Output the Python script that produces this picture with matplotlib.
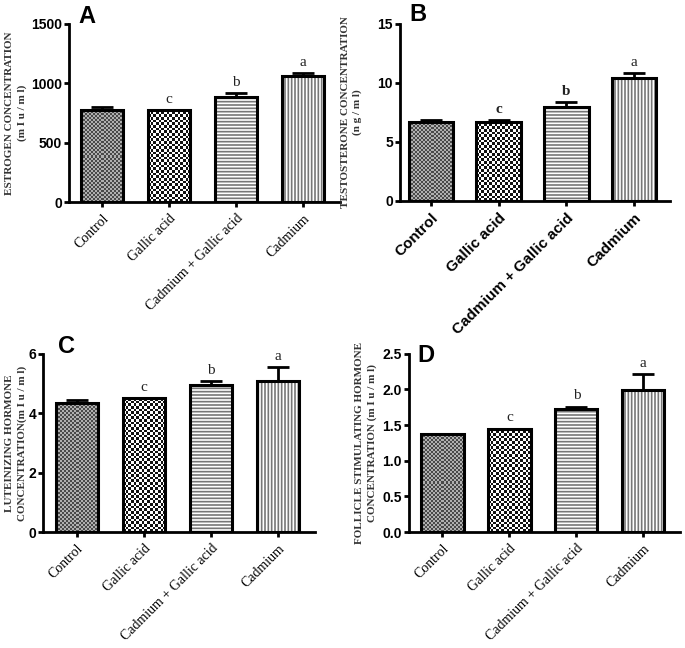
import matplotlib
matplotlib.use('Agg')
import matplotlib.pyplot as plt
from matplotlib.colors import ListedColormap
import numpy as np

# data
groups = ['Control', 'Gallic acid', 'Cadmium + Gallic acid', 'Cadmium']
sig_letters = ['', 'c', 'b', 'a']

estrogen = [775, 775, 885, 1060]
estrogen_err = [30, 0, 35, 25]

testosterone = [6.7, 6.7, 8.0, 10.4]
testosterone_err = [0.15, 0.15, 0.4, 0.45]

lh = [4.35, 4.5, 4.95, 5.1]
lh_err = [0.1, 0.0, 0.12, 0.45]

fsh = [1.38, 1.45, 1.72, 1.99]
fsh_err = [0.0, 0.0, 0.04, 0.23]

# fill styles: checker (period px, colours) or hatch
checkers = [(2.0, '#4a4a4a', '#b0b0b0'), (2.6, '#111111', '#ffffff'), None, None]
hatches = [None, None, '-----', '|||||']

plt.rcParams['hatch.linewidth'] = 1.2
SERIF = 'Liberation Serif'
SANS = 'Liberation Sans'

fig = plt.figure(figsize=(6.85, 6.48), dpi=100)


def checker_fill(ax, bar, period, c1, c2):
    x0, y0, x1, y1 = bar.get_bbox().extents
    p0 = ax.transData.transform((x0, y0))
    p1 = ax.transData.transform((x1, y1))
    nx = max(1, int(round((p1[0] - p0[0]) / period)))
    ny = max(1, int(round((p1[1] - p0[1]) / period)))
    arr = np.add.outer(np.arange(ny), np.arange(nx)) % 2
    im = ax.imshow(arr, extent=(x0, x1, y0, y1), cmap=ListedColormap([c1, c2]),
                   interpolation='nearest', aspect='auto', zorder=2)
    im.set_clip_path(bar)


def panel(rect, vals, errs, ylim, yticks, ylabel, letter, letter_xy,
          ylabel_x, bold_sans_x=False, fmt='%d', xlim=(-0.5, 3.55), width=0.63):
    ax = fig.add_axes(rect)
    ax.set_xlim(*xlim)
    ax.set_ylim(*ylim)
    x = np.arange(len(vals))
    for i in range(len(vals)):
        face = ax.bar(x[i], vals[i], width, color='white', linewidth=0,
                      hatch=hatches[i], edgecolor='#777777', zorder=1)[0]
        if checkers[i] is not None:
            checker_fill(ax, face, *checkers[i])
        ax.bar(x[i], vals[i], width, fill=False, edgecolor='black',
               linewidth=2.2, zorder=3)
    lo = np.zeros(len(vals))
    ax.errorbar(x, vals, yerr=[lo, errs], fmt='none', ecolor='black',
                elinewidth=2, capsize=8, capthick=2, zorder=4)
    for i, s in enumerate(sig_letters):
        if s:
            ax.annotate(s, (x[i], vals[i] + errs[i]), xytext=(0, 3),
                        textcoords='offset points', ha='center', va='bottom',
                        fontsize=11, family=SERIF, color='#222222',
                        fontweight='bold' if (bold_sans_x and s != 'a') else 'normal')
    ax.set_xlim(*xlim)
    ax.set_ylim(*ylim)
    ax.set_yticks(yticks)
    ax.set_yticklabels([fmt % t for t in yticks], fontsize=10,
                       fontweight='bold', family=SANS)
    ax.set_xticks(x)
    if bold_sans_x:
        ax.set_xticklabels(groups, rotation=45, ha='right', rotation_mode='anchor',
                           fontsize=11, fontweight='bold', family=SANS)
    else:
        ax.set_xticklabels(groups, rotation=45, ha='right', rotation_mode='anchor',
                           fontsize=10, family=SERIF)
    for sp in ['top', 'right']:
        ax.spines[sp].set_visible(False)
    for sp in ['left', 'bottom']:
        ax.spines[sp].set_linewidth(2)
    ax.tick_params(width=2, length=3.5, direction='out')
    ax.tick_params(axis='y', pad=1.5)
    ax.set_ylabel(ylabel, fontsize=8, fontweight='bold', family=SERIF,
                  linespacing=1.4, color='#333333')
    ax.yaxis.set_label_coords(ylabel_x, 0.5)
    fig.text(letter_xy[0], letter_xy[1], letter, fontsize=17,
             fontweight='bold', family=SANS, va='center', ha='left')
    return ax


panel([0.1007, 0.688, 0.395, 0.275], estrogen, estrogen_err, (0, 1500),
      [0, 500, 1000, 1500], 'ESTROGEN CONCENTRATION\n(m I u / m l)', 'A',
      (0.115, 0.975), -0.155)

panel([0.584, 0.690, 0.394, 0.273], testosterone, testosterone_err, (0, 15),
      [0, 5, 10, 15], 'TESTOSTERONE CONCENTRATION\n(n g / m l)', 'B',
      (0.597, 0.978), -0.14, bold_sans_x=True, xlim=(-0.46, 3.53), width=0.66)

panel([0.063, 0.179, 0.397, 0.275], lh, lh_err, (0, 6),
      [0, 2, 4, 6], 'LUTEINIZING HORMONE\nCONCENTRATION(m I u / m l)', 'C',
      (0.085, 0.465), -0.06)

panel([0.597, 0.179, 0.396, 0.275], fsh, fsh_err, (0, 2.5),
      [0, 0.5, 1.0, 1.5, 2.0, 2.5], 'FOLLICLE STIMULATING HORMONE\nCONCENTRATION (m I u / m l)',
      'D', (0.61, 0.452), -0.118, fmt='%.1f')

fig.savefig('out.png', dpi=100)
